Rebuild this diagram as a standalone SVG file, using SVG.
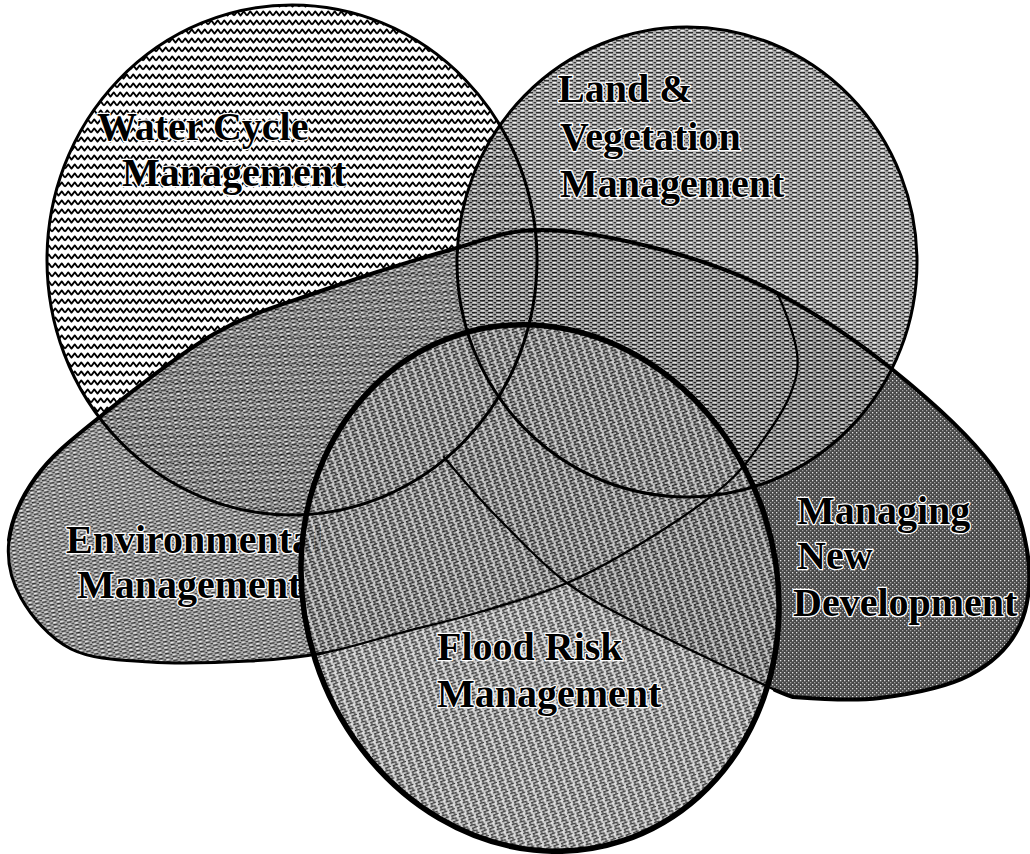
<svg xmlns="http://www.w3.org/2000/svg" width="1030" height="854" viewBox="0 0 1030 854">
  <defs>
    <!-- wavy hatch for the water cycle circle -->
    <pattern id="texWave" width="13" height="9" patternUnits="userSpaceOnUse">
      <rect width="13" height="9" fill="#ffffff"/>
      <polyline points="0,6.6 3.25,2.4 6.5,6.6 9.75,2.4 13,6.6" fill="none" stroke="#000" stroke-width="1.8" stroke-linejoin="round"/>
    </pattern>
    <!-- horizontal streak texture -->
    <pattern id="texLand" width="8" height="4" patternUnits="userSpaceOnUse">
      <rect width="8" height="4" fill="#a8a8a8"/>
      <rect x="0" y="0" width="5" height="1.4" fill="#111"/>
      <rect x="5.5" y="2" width="2.5" height="1.3" fill="#222"/>
      <rect x="1" y="2.2" width="3" height="1" fill="#ffffff"/>
    </pattern>
    <pattern id="texEnv" width="7" height="4" patternUnits="userSpaceOnUse" patternTransform="rotate(-10)">
      <rect width="7" height="4" fill="#a4a4a4"/>
      <rect x="0" y="0" width="4.5" height="1.4" fill="#111"/>
      <rect x="4.5" y="2" width="2.5" height="1.3" fill="#222"/>
      <rect x="0.5" y="2.2" width="2.8" height="1" fill="#ffffff"/>
    </pattern>
    <!-- maze-like texture -->
    <pattern id="texFlood" width="8" height="6" patternUnits="userSpaceOnUse">
      <rect width="8" height="6" fill="#c8c8c8"/>
      <path d="M0,0.6h5M5,0v3M1,3.6h6M2,3v3" fill="none" stroke="#1e1e1e" stroke-width="1.2"/>
      <rect x="6" y="4.4" width="1.5" height="1.2" fill="#ffffff"/>
    </pattern>
    <!-- dark grid texture -->
    <pattern id="texManage" width="4" height="4" patternUnits="userSpaceOnUse">
      <rect width="4" height="4" fill="#484848"/>
      <rect x="0" y="0" width="1.3" height="1.3" fill="#e0e0e0"/>
      <rect x="2" y="2" width="1.3" height="1.3" fill="#a0a0a0"/>
    </pattern>
    <style>
      .lbl { font-family: "Liberation Serif", "Times New Roman", serif; font-weight: bold; font-size: 40px; fill: #000; stroke: #fff; stroke-width: 2.5px; paint-order: stroke; stroke-linejoin: round; }
      .ln { fill: none; stroke: #000; stroke-linecap: round; stroke-linejoin: round; }
      .thin { stroke-width: 2.3; }
      .mid { stroke-width: 3; }
      .thick { stroke-width: 4; }
      .heavy { stroke-width: 5.5; }
    </style>
  </defs>

  <rect width="1030" height="854" fill="#ffffff"/>

  <!-- Water Cycle Management -->
  <g id="water">
    <ellipse cx="292" cy="260" rx="245" ry="255" fill="url(#texWave)"/>
    <text class="lbl" x="97" y="140">Water Cycle</text>
    <text class="lbl" x="122" y="186">Management</text>
  </g>

  <!-- Managing New Development -->
  <g id="managing">
    <path fill="url(#texManage)" d="M777,293 C815.3,313 857,341 893,370 C929,399 970.7,437 993,467 C1015.3,497 1022.5,523.7 1027,550 C1031.5,576.3 1029.5,604.2 1020,625 C1010.5,645.8 993.3,662.8 970,675 C946.7,687.2 909.5,694.3 880,698 C850.5,701.7 810.5,698.3 793,697 C787,695 781,693 775,690 C751.2,678.8 684.7,647.8 650,630 C615.3,612.2 592,601.3 567,583 C542,564.7 519.5,539.5 500,520 C478,498 458,474 444,457 L600,400 Z"/>
    <text class="lbl" x="797" y="524">Managing</text>
    <text class="lbl" x="797" y="569">New</text>
    <text class="lbl" x="793" y="616">Development</text>
  </g>

  <!-- Environmental Management -->
  <g id="environmental">
    <path fill="url(#texEnv)" opacity="0.88" d="M9,540 C11.5,519.8 21.5,497 36,477 C50.5,457 66.3,443.8 96,420 C125.7,396.2 176.5,355.5 214,334 C251.5,312.5 281.7,305 321,291 C360.3,277 413.5,260.2 450,250 C486.5,239.8 504.5,230 540,230 C575.5,230 623.5,239.5 663,250 C702.5,260.5 738.7,273 777,293 C783.7,306 794.8,336 797,353 C799.2,370 795.7,380.5 790,395 C784.3,409.5 773.8,425 763,440 C752.2,455 743.8,468.7 725,485 C706.2,501.3 676.3,521.7 650,538 C623.7,554.3 595.3,570.7 567,583 C538.7,595.3 507.8,603.7 480,612 C452.2,620.3 426.2,626.2 400,633 C373.8,639.8 348,648.3 323,653 C298,657.7 278.8,659.5 250,661 C221.2,662.5 179.8,664 150,662 C120.2,660 92.5,659.7 71,649 C49.5,638.3 31.3,616.2 21,598 C10.7,579.8 6.5,560.2 9,540 Z"/>
    <text class="lbl" x="66" y="553">Environmental</text>
    <text class="lbl" x="77" y="598">Management</text>
  </g>

  <!-- Land & Vegetation Management -->
  <g id="land">
    <ellipse cx="687" cy="262" rx="230" ry="235" fill="url(#texLand)" opacity="0.88"/>
    <text class="lbl" x="558" y="102">Land &amp;</text>
    <text class="lbl" x="560" y="150">Vegetation</text>
    <text class="lbl" x="560" y="197">Management</text>
  </g>

  <!-- Flood Risk Management -->
  <g id="flood">
    <ellipse cx="540" cy="588" rx="236" ry="266" transform="rotate(-18 540 588)" fill="url(#texFlood)" opacity="0.86"/>
    <text class="lbl" x="437" y="660">Flood Risk</text>
    <text class="lbl" x="437" y="707">Management</text>
  </g>

  <!-- outlines, drawn over every fill -->
  <g id="outlines">
    <ellipse class="ln mid" cx="292" cy="260" rx="245" ry="255"/>
    <ellipse class="ln mid" cx="687" cy="262" rx="230" ry="235"/>
    <!-- lower and right edge of the environmental shape -->
    <path class="ln thin" d="M777,293 C783.7,306 794.8,336 797,353 C799.2,370 795.7,380.5 790,395 C784.3,409.5 773.8,425 763,440 C752.2,455 743.8,468.7 725,485 C706.2,501.3 676.3,521.7 650,538 C623.7,554.3 595.3,570.7 567,583 C538.7,595.3 507.8,603.7 480,612 C452.2,620.3 426.2,626.2 400,633 C373.8,639.8 348,648.3 323,653"/>
    <path class="ln mid" d="M323,653 C298,657.7 278.8,659.5 250,661 C221.2,662.5 179.8,664 150,662 C120.2,660 92.5,659.7 71,649 C49.5,638.3 31.3,616.2 21,598 C10.7,579.8 6.5,560.2 9,540"/>
    <!-- lower-left edge of the development shape -->
    <path class="ln thin" d="M775,690 C751.2,678.8 684.7,647.8 650,630 C615.3,612.2 592,601.3 567,583 C542,564.7 519.5,539.5 500,520 C478,498 458,474 444,457"/>
    <!-- long upper edge shared by the two lower shapes -->
    <path class="ln thick" d="M9,540 C11.5,519.8 21.5,497 36,477 C50.5,457 66.3,443.8 96,420 C125.7,396.2 176.5,355.5 214,334 C251.5,312.5 281.7,305 321,291 C360.3,277 413.5,260.2 450,250 C486.5,239.8 504.5,230 540,230 C575.5,230 623.5,239.5 663,250 C702.5,260.5 738.7,273 777,293 C815.3,313 857,341 893,370 C929,399 970.7,437 993,467 C1015.3,497 1022.5,523.7 1027,550 C1031.5,576.3 1029.5,604.2 1020,625 C1010.5,645.8 993.3,662.8 970,675 C946.7,687.2 909.5,694.3 880,698 C850.5,701.7 810.5,698.3 793,697 C787,695 781,693 775,690"/>
    <ellipse class="ln heavy" cx="540" cy="588" rx="236" ry="266" transform="rotate(-18 540 588)"/>
  </g>
</svg>
